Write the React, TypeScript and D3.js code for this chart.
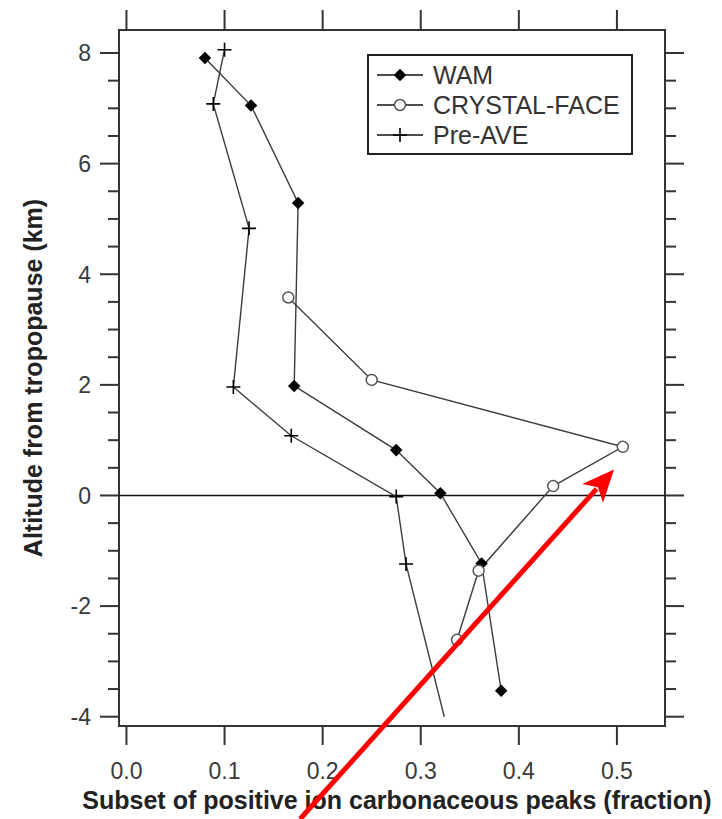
import * as d3 from "d3";
import { useEffect, useRef } from "react";

// altitude from tropopause (km) vs fraction of positive ion carbonaceous peaks
const wamX = [0.08, 0.127, 0.175, 0.171, 0.275, 0.32, 0.362, 0.382];
const wamY = [7.91, 7.05, 5.29, 1.98, 0.82, 0.04, -1.23, -3.53];

const crystalX = [0.165, 0.25, 0.506, 0.435, 0.359, 0.337];
const crystalY = [3.58, 2.09, 0.88, 0.17, -1.36, -2.61];

const preAveX = [0.1, 0.0885, 0.125, 0.109, 0.168, 0.275, 0.285, 0.324];
const preAveY = [8.06, 7.08, 4.83, 1.96, 1.08, -0.02, -1.24, -4.0];

const xTicks = [0.0, 0.1, 0.2, 0.3, 0.4, 0.5];
const yTicks = [-4, -2, 0, 2, 4, 6, 8];
const yMinorTicks = d3.range(-4, 8.01, 0.5).filter((v) => v % 2 !== 0);

const legendNames = ["WAM", "CRYSTAL-FACE", "Pre-AVE"];

// red annotation arrow, in data units (tail, head)
const arrowFrom = [0.177, -5.85];
const arrowTo = [0.497, 0.47];

export default function App() {
  const width = 722;
  const height = 819;
  const ref = useRef<SVGSVGElement>(null);

  useEffect(() => {
    const svg = d3.select(ref.current);
    svg.selectAll("*").remove();

    const left = 119;
    const right = 665;
    const top = 30;
    const bottom = 726;

    const x = d3.scaleLinear().domain([-0.0076, 0.549]).range([left, right]);
    const y = d3.scaleLinear().domain([-4.168, 8.416]).range([bottom, top]);

    const font = "'Liberation Sans', Arial, sans-serif";
    const ink = "#333";

    // frame
    svg
      .append("rect")
      .attr("x", left)
      .attr("y", top)
      .attr("width", right - left)
      .attr("height", bottom - top)
      .attr("fill", "none")
      .attr("stroke", ink)
      .attr("stroke-width", 2);

    // x ticks top and bottom, pointing out
    const xt = svg.append("g").attr("stroke", ink).attr("stroke-width", 2);
    xt.selectAll()
      .data(xTicks)
      .join("line")
      .attr("x1", (d) => x(d))
      .attr("x2", (d) => x(d))
      .attr("y1", bottom)
      .attr("y2", bottom + 19);
    xt.selectAll()
      .data(xTicks)
      .join("line")
      .attr("x1", (d) => x(d))
      .attr("x2", (d) => x(d))
      .attr("y1", top)
      .attr("y2", top - 20);

    // y ticks left and right
    const yt = svg.append("g").attr("stroke", ink).attr("stroke-width", 2);
    [
      [left, -1],
      [right, 1],
    ].forEach(([x0, dir]) => {
      yt.selectAll()
        .data(yTicks)
        .join("line")
        .attr("x1", x0)
        .attr("x2", x0 + dir * 19)
        .attr("y1", (d) => y(d))
        .attr("y2", (d) => y(d));
      yt.selectAll()
        .data(yMinorTicks)
        .join("line")
        .attr("x1", x0)
        .attr("x2", x0 + dir * 11)
        .attr("y1", (d) => y(d))
        .attr("y2", (d) => y(d));
    });

    // tick labels
    svg
      .append("g")
      .attr("font-family", font)
      .attr("font-size", 23)
      .attr("fill", "#3a3a3a")
      .attr("text-anchor", "middle")
      .selectAll()
      .data(xTicks)
      .join("text")
      .attr("x", (d) => x(d))
      .attr("y", 779)
      .text((d) => d3.format(".1f")(d));

    svg
      .append("g")
      .attr("font-family", font)
      .attr("font-size", 23)
      .attr("fill", "#3a3a3a")
      .attr("text-anchor", "end")
      .selectAll()
      .data(yTicks)
      .join("text")
      .attr("x", 91)
      .attr("y", (d) => y(d))
      .attr("dy", "0.36em")
      .text((d) => d);

    // axis titles
    svg
      .append("text")
      .attr("x", 397)
      .attr("y", 809)
      .attr("text-anchor", "middle")
      .attr("font-family", font)
      .attr("font-weight", "bold")
      .attr("font-size", 25)
      .attr("fill", "#222")
      .text("Subset of positive ion carbonaceous peaks (fraction)");

    svg
      .append("text")
      .attr("transform", "translate(42,378) rotate(-90)")
      .attr("text-anchor", "middle")
      .attr("font-family", font)
      .attr("font-weight", "bold")
      .attr("font-size", 25)
      .attr("fill", "#222")
      .text("Altitude from tropopause (km)");

    // zero line
    svg
      .append("line")
      .attr("x1", left)
      .attr("x2", right)
      .attr("y1", y(0))
      .attr("y2", y(0))
      .attr("stroke", "#111")
      .attr("stroke-width", 1.6);

    const line = d3
      .line<[number, number]>()
      .x((d) => x(d[0]))
      .y((d) => y(d[1]));

    const wam = wamX.map((v, i) => [v, wamY[i]] as [number, number]);
    const crystal = crystalX.map((v, i) => [v, crystalY[i]] as [number, number]);
    const preAve = preAveX.map((v, i) => [v, preAveY[i]] as [number, number]);

    const lines = svg.append("g").attr("fill", "none").attr("stroke", "#3c3c3c").attr("stroke-width", 1.4);
    [wam, crystal, preAve].forEach((s) => lines.append("path").attr("d", line(s)));

    const diamond = d3.symbol(d3.symbolDiamond2, 100);
    const plus = (cx: number, cy: number, r: number) =>
      `M${cx - r},${cy}H${cx + r}M${cx},${cy - r}V${cy + r}`;

    svg
      .append("g")
      .selectAll()
      .data(wam)
      .join("path")
      .attr("transform", (d) => `translate(${x(d[0])},${y(d[1])})`)
      .attr("d", diamond)
      .attr("fill", "#000");

    svg
      .append("g")
      .selectAll()
      .data(crystal)
      .join("circle")
      .attr("cx", (d) => x(d[0]))
      .attr("cy", (d) => y(d[1]))
      .attr("r", 5.5)
      .attr("fill", "#fff")
      .attr("stroke", "#555")
      .attr("stroke-width", 1.5);

    // last Pre-AVE point is drawn without a marker in the original
    svg
      .append("g")
      .attr("stroke", "#000")
      .attr("stroke-width", 1.6)
      .selectAll()
      .data(preAve.slice(0, -1))
      .join("path")
      .attr("d", (d) => plus(x(d[0]), y(d[1]), 7));

    // legend
    const lg = svg.append("g");
    lg.append("rect")
      .attr("x", 368)
      .attr("y", 55)
      .attr("width", 264)
      .attr("height", 99)
      .attr("fill", "#fff")
      .attr("stroke", "#222")
      .attr("stroke-width", 2);
    const rows = lg
      .selectAll()
      .data(legendNames)
      .join("g")
      .attr("transform", (d, i) => `translate(0,${75 + i * 30})`);
    rows
      .append("line")
      .attr("x1", 377)
      .attr("x2", 423)
      .attr("stroke", "#111")
      .attr("stroke-width", 1.6);
    rows
      .append("text")
      .attr("x", 433)
      .attr("dy", "0.36em")
      .attr("font-family", font)
      .attr("font-size", 25)
      .attr("fill", "#333")
      .text((d) => d);
    rows
      .filter((d, i) => i === 0)
      .append("path")
      .attr("transform", "translate(400,0)")
      .attr("d", diamond)
      .attr("fill", "#000");
    rows
      .filter((d, i) => i === 1)
      .append("circle")
      .attr("cx", 400)
      .attr("r", 5.5)
      .attr("fill", "#fff")
      .attr("stroke", "#555")
      .attr("stroke-width", 1.5);
    rows
      .filter((d, i) => i === 2)
      .append("path")
      .attr("d", plus(400, 0, 7))
      .attr("stroke", "#000")
      .attr("stroke-width", 1.6);

    // red arrow
    const x0 = x(arrowFrom[0]);
    const y0 = y(arrowFrom[1]);
    const x1 = x(arrowTo[0]);
    const y1 = y(arrowTo[1]);
    const ang = Math.atan2(y1 - y0, x1 - x0);
    const headLen = 32;
    const headHalf = 14;
    const bx = x1 - headLen * Math.cos(ang);
    const by = y1 - headLen * Math.sin(ang);
    const nx = -Math.sin(ang);
    const ny = Math.cos(ang);
    svg
      .append("line")
      .attr("x1", x0)
      .attr("y1", y0)
      .attr("x2", bx + 6 * Math.cos(ang))
      .attr("y2", by + 6 * Math.sin(ang))
      .attr("stroke", "#f00")
      .attr("stroke-width", 5);
    svg
      .append("path")
      .attr(
        "d",
        `M${x1},${y1}L${bx + headHalf * nx},${by + headHalf * ny}L${bx + 8 * Math.cos(ang)},${by + 8 * Math.sin(ang)}L${bx - headHalf * nx},${by - headHalf * ny}Z`
      )
      .attr("fill", "#f00");
  }, []);

  return (
    <svg
      ref={ref}
      width={width}
      height={height}
      style={{ position: "absolute", left: 0, top: 0, background: "#fff" }}
    ></svg>
  );
}
